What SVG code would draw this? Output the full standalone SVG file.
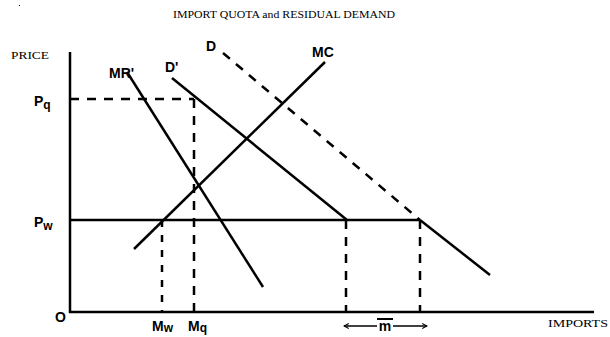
<svg xmlns="http://www.w3.org/2000/svg" width="610" height="337" viewBox="0 0 610 337">
<style>
.ln{stroke:#000;stroke-width:2.5;fill:none;stroke-linecap:butt}
.ax{stroke:#000;stroke-width:2.5;fill:none}
.ds{stroke:#000;stroke-width:2.5;fill:none;stroke-dasharray:9,8}
.dt{stroke:#000;stroke-width:2.5;fill:none;stroke-dasharray:7,8}
.sf{font-family:"Liberation Serif","DejaVu Serif",serif;font-size:10px;fill:#000}
.lb{font-family:"Liberation Sans",Arial,sans-serif;font-weight:bold;font-size:14px;fill:#000}
.sb{font-family:"Liberation Sans",Arial,sans-serif;font-weight:bold;font-size:12px;fill:#000}
</style>
<defs>
<marker id="ah" viewBox="0 0 10 10" refX="9" refY="5" markerWidth="6" markerHeight="6" orient="auto-start-reverse" markerUnits="userSpaceOnUse">
<path d="M1,1 L9,5 L1,9" fill="none" stroke="#000" stroke-width="1.8"/>
</marker>
</defs>
<rect x="19" y="5" width="1" height="1" fill="#000"/>
<text class="sf" x="284" y="18" text-anchor="middle" textLength="222" lengthAdjust="spacingAndGlyphs">IMPORT QUOTA and RESIDUAL DEMAND</text>
<g id="axes">
<line class="ax" x1="70" y1="52" x2="70" y2="313"/>
<line class="ax" x1="69" y1="312" x2="594" y2="312"/>
<text class="sf" x="11" y="59" textLength="38" lengthAdjust="spacingAndGlyphs">PRICE</text>
<text class="sf" x="548" y="327" textLength="60" lengthAdjust="spacingAndGlyphs">IMPORTS</text>
<text class="lb" x="55" y="322">O</text>
</g>
<g id="connectors">
<line id="pq-line" class="ds" x1="70" y1="99" x2="194" y2="99"/>
<line id="pw-line" class="ln" x1="70" y1="220" x2="420" y2="220"/>
<line id="mq-drop" class="ds" x1="194" y1="99" x2="194" y2="312"/>
<line id="mw-drop" class="dt" x1="162" y1="220" x2="162" y2="312"/>
<line id="d1-drop" class="ds" x1="346" y1="220" x2="346" y2="312"/>
<line id="d2-drop" class="ds" x1="420" y1="220" x2="420" y2="312"/>
<line id="arrow-l" x1="377" y1="326" x2="344" y2="326" stroke="#000" stroke-width="1.6" marker-end="url(#ah)"/>
<line id="arrow-r" x1="393" y1="326" x2="427" y2="326" stroke="#000" stroke-width="1.6" marker-end="url(#ah)"/>
</g>
<g id="MC">
<line class="ln" x1="134" y1="249" x2="325" y2="62"/>
<text class="lb" x="312" y="57">MC</text>
</g>
<g id="MRp">
<line class="ln" x1="127" y1="72" x2="263" y2="287"/>
<text class="lb" x="109" y="78">MR'</text>
</g>
<g id="Dp">
<line class="ln" x1="172" y1="78" x2="347" y2="220"/>
<text class="lb" x="165" y="72">D'</text>
</g>
<g id="D">
<line class="ds" x1="223" y1="53" x2="420" y2="220"/>
<line class="ln" x1="420" y1="220" x2="490" y2="275"/>
<text class="lb" x="206" y="51">D</text>
</g>
<g id="labels">
<text class="lb" x="34" y="106">P<tspan class="sb" dy="3">q</tspan></text>
<text class="lb" x="34" y="227">P<tspan class="sb" dy="3">w</tspan></text>
<text class="lb" x="152" y="331">M<tspan class="sb" dy="1">w</tspan></text>
<text class="lb" x="188" y="331">M<tspan class="sb" dy="1">q</tspan></text>
<text class="lb" x="385" y="331" text-anchor="middle">m</text>
<line x1="377" y1="319" x2="393" y2="319" stroke="#000" stroke-width="2"/>
</g>
</svg>
